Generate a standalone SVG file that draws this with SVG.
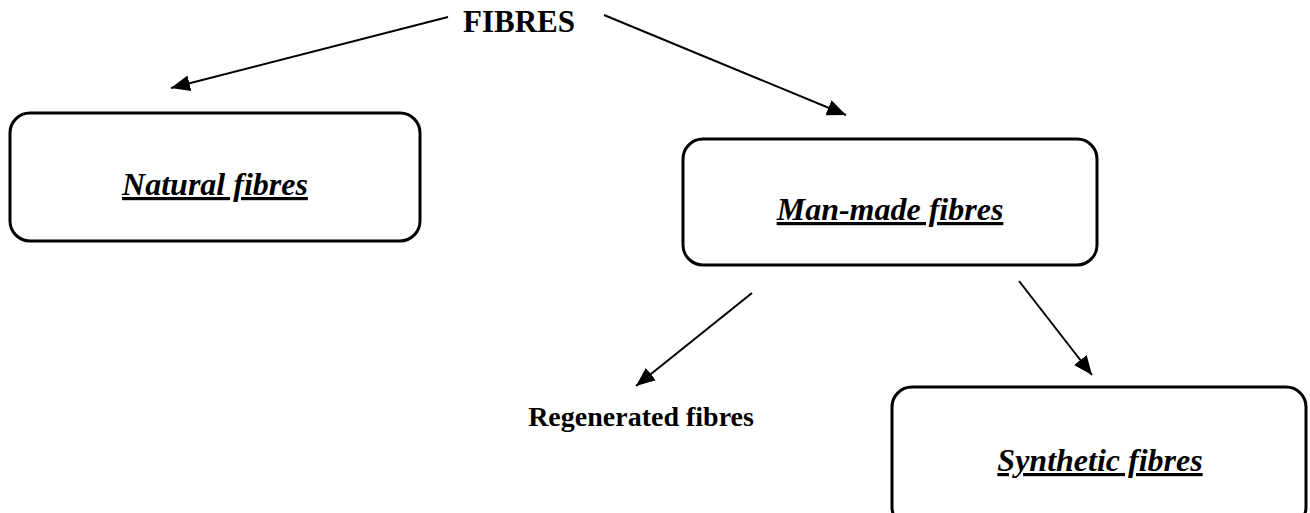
<svg xmlns="http://www.w3.org/2000/svg" width="1310" height="513" viewBox="0 0 1310 513">
  <style>
    .box { fill: #fff; stroke: #000; stroke-width: 3; }
    .lbl { font-family: "Liberation Serif", "Times New Roman", serif; font-weight: bold; font-style: italic; font-size: 32px; text-decoration: underline; text-anchor: middle; fill: #000; }
    .plain { font-family: "Liberation Serif", "Times New Roman", serif; font-weight: bold; fill: #000; text-anchor: middle; }
    .conn { stroke: #000; stroke-width: 2; fill: none; marker-end: url(#arrow); }
  </style>
  <defs>
    <marker id="arrow" markerUnits="userSpaceOnUse" markerWidth="20" markerHeight="16" refX="19" refY="8" orient="auto">
      <path d="M0,0 L19,8 L0,16 z" fill="#000"/>
    </marker>
  </defs>
  <rect width="1310" height="513" fill="#fff"/>
  <g id="fibres">
    <text class="plain" x="519" y="32" font-size="31">FIBRES</text>
  </g>
  <g id="natural">
    <rect class="box" x="10" y="113" width="410" height="128" rx="20" ry="20"/>
    <text class="lbl" x="215" y="195">Natural fibres</text>
  </g>
  <g id="manmade">
    <rect class="box" x="683" y="139" width="414" height="126" rx="20" ry="20"/>
    <text class="lbl" x="890" y="220">Man-made fibres</text>
  </g>
  <g id="regenerated">
    <text class="plain" x="641" y="426" font-size="28">Regenerated fibres</text>
  </g>
  <g id="synthetic">
    <rect class="box" x="892" y="387" width="414" height="140" rx="20" ry="20"/>
    <text class="lbl" x="1100" y="471">Synthetic fibres</text>
  </g>
  <g id="connectors">
    <line class="conn" x1="448" y1="17" x2="171" y2="88"/>
    <line class="conn" x1="604" y1="15" x2="846" y2="115"/>
    <line class="conn" x1="752" y1="293" x2="636" y2="386"/>
    <line class="conn" x1="1019" y1="281" x2="1092" y2="375"/>
  </g>
</svg>
